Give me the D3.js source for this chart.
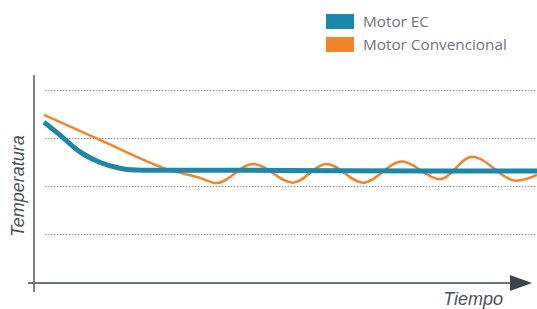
<!DOCTYPE html>
<html><head><meta charset="utf-8">
<script src="https://cdn.jsdelivr.net/npm/d3@7"></script>
<style>body{margin:0;background:#fff}svg{display:block}</style>
</head><body><svg id="c" width="537" height="309"></svg>
<script>
// Data
const seriesNames = ["Motor EC", "Motor Convencional"];
const gridTicks = [1, 2, 3, 4];
const ecTime = [0, 3.25, 7.3, 11.4, 15.4, 17.4, 20, 30, 60, 100];
const ecTemp = [3.33, 3.06, 2.71, 2.49, 2.37, 2.34, 2.33, 2.33, 2.32, 2.31];
const convTime = [0, 12, 25.6, 31.6, 35, 42.4, 50.5, 57.3, 64.7, 72.6, 80.3, 86.8, 95.9, 100];
const convTemp = [3.48, 2.93, 2.33, 2.17, 2.06, 2.46, 2.07, 2.46, 2.07, 2.51, 2.14, 2.61, 2.11, 2.23];
const xLabel = "Tiempo", yLabel = "Temperatura";

const colors = ["#1e86a8", "#f0852a"];
const svg = d3.select("#c");
const x = d3.scaleLinear().domain([0, 100]).range([44, 537]);
const y = d3.scaleLinear().domain([0, 4]).range([282, 90]);

// gridlines
svg.append("g").selectAll("line").data(gridTicks).join("line")
  .attr("x1", 45).attr("x2", 537)
  .attr("y1", d => Math.round(y(d)) + 0.5).attr("y2", d => Math.round(y(d)) + 0.5)
  .attr("stroke", "#8f949c").attr("stroke-width", 1).attr("stroke-dasharray", "1.5,1.5");

// axes
svg.append("line").attr("x1", 34).attr("x2", 34).attr("y1", 75).attr("y2", 292)
  .attr("stroke", "#7d8188").attr("stroke-width", 2);
svg.append("line").attr("x1", 28).attr("x2", 515).attr("y1", 283).attr("y2", 283)
  .attr("stroke", "#6e737a").attr("stroke-width", 2);
svg.append("path").attr("d", "M510,275 L532,283 L510,291 Z").attr("fill", "#3e434c");

const line = d3.line().x(d => x(d[0])).y(d => y(d[1])).curve(d3.curveMonotoneX);
const conv = convTime.map((t, i) => [t, convTemp[i]]);
const ec = ecTime.map((t, i) => [t, ecTemp[i]]);

svg.append("path").attr("d", line(conv)).attr("fill", "none")
  .attr("stroke", colors[1]).attr("stroke-width", 2.5);
svg.append("path").attr("d", line(ec)).attr("fill", "none")
  .attr("stroke", colors[0]).attr("stroke-width", 5);

// legend
const lg = svg.append("g");
seriesNames.forEach((n, i) => {
  lg.append("rect").attr("x", 326).attr("y", 14 + i * 23).attr("width", 28).attr("height", 15)
    .attr("fill", colors[i]);
  lg.append("text").attr("x", 363).attr("y", 26.5 + i * 23).text(n)
    .attr("font-family", "'Open Sans', sans-serif").attr("font-size", 15.3).attr("fill", "#6f737b");
});

// axis titles
svg.append("text").attr("x", 503).attr("y", 305).attr("text-anchor", "end")
  .attr("font-family", "'Liberation Sans', Arial, sans-serif").attr("font-style", "italic").attr("font-size", 18)
  .attr("fill", "#4d525a").text(xLabel);
svg.append("text").attr("transform", "translate(24,186) rotate(-90)").attr("text-anchor", "middle")
  .attr("font-family", "'Liberation Sans', Arial, sans-serif").attr("font-style", "italic").attr("font-size", 18)
  .attr("fill", "#4d525a").text(yLabel);
</script></body></html>
